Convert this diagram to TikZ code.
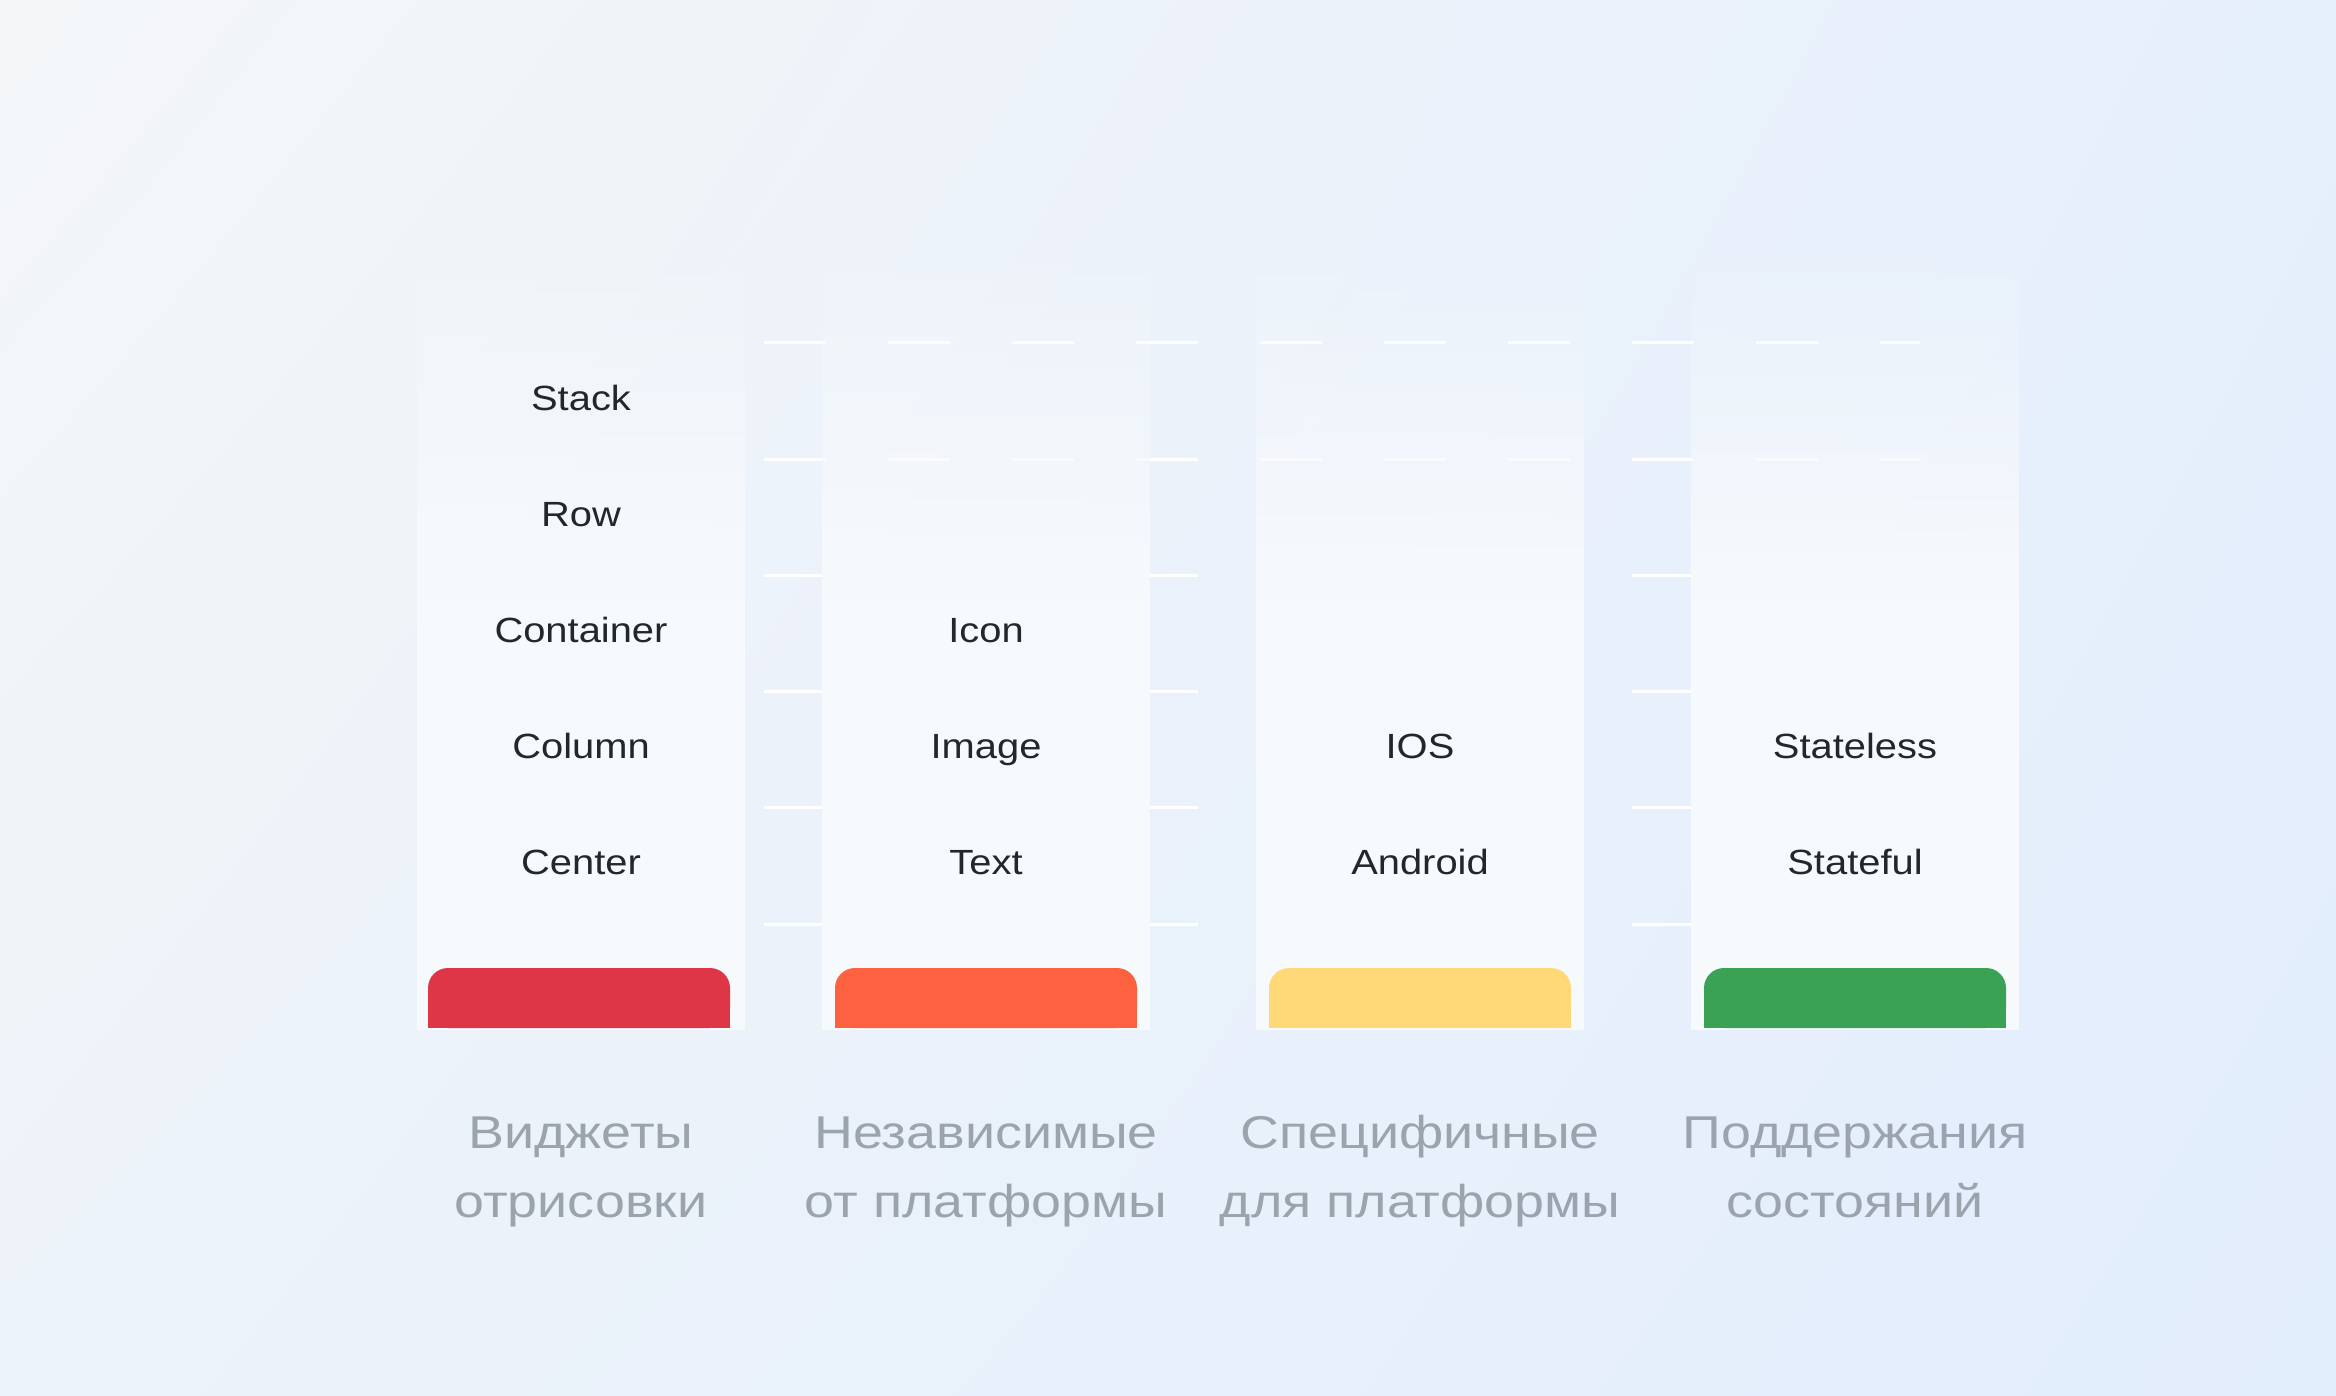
\documentclass[tikz,border=0pt]{standalone}
\usepackage{fontspec}
\setmainfont{Liberation Sans}
\newfontfamily\itemfont[FakeStretch=1.14]{Liberation Sans}
\newfontfamily\capfont[FakeStretch=1.17]{Liberation Sans}
\usetikzlibrary{fadings}
\usetikzlibrary{shadings}
\definecolor{bgtl}{HTML}{F4F6F8}
\definecolor{bgtr}{HTML}{E6EFFC}
\definecolor{bgbl}{HTML}{EDF3FA}
\definecolor{bgbr}{HTML}{E2EDFC}
\definecolor{paper}{HTML}{F7FAFD}
\definecolor{ink}{HTML}{22272B}
\definecolor{mgray}{HTML}{9BA3AD}
\definecolor{mred}{HTML}{DF3647}
\definecolor{morange}{HTML}{FD6140}
\definecolor{myellow}{HTML}{FFD878}
\definecolor{mgreen}{HTML}{3AA255}
\tikzfading[name=panelfade, top color=transparent!100, bottom color=transparent!0]
\tikzset{
  item/.style={anchor=base, text=ink, inner sep=0pt, font=\itemfont\fontsize{17.5pt}{21pt}\selectfont},
  caption/.style={anchor=base, text=mgray, align=center, inner sep=0pt, font=\capfont\fontsize{23pt}{34.5pt}\selectfont},
  panel/.style={fill=paper},
  paneltop/.style={fill=paper, path fading=panelfade},
  gridline/.style={white, line width=1.5pt, dash pattern=on 31pt off 31pt},
}

\begin{document}
\begin{tikzpicture}[x=0.5pt, y=-0.5pt]
    \useasboundingbox (0,0) rectangle (2336,1396);
    \shade [upper left=bgtl, upper right=bgtr, lower left=bgbl, lower right=bgbr] (0,0) rectangle (2336,1396);

    % faint rows behind the columns
    \draw [gridline] (764,343) -- (1920,343);
    \draw [gridline] (764,459) -- (1920,459);
    \draw [gridline] (764,575) -- (1920,575);
    \draw [gridline] (764,691) -- (1920,691);
    \draw [gridline] (764,807) -- (1920,807);
    \draw [gridline] (764,924) -- (1920,924);

    \fill [paneltop] (417,230) rectangle (745,600);
    \fill [panel] (417,599) rectangle (745,1030);
    \fill [paneltop] (822,230) rectangle (1150,600);
    \fill [panel] (822,599) rectangle (1150,1030);
    \fill [paneltop] (1256,230) rectangle (1584,600);
    \fill [panel] (1256,599) rectangle (1584,1030);
    \fill [paneltop] (1691,230) rectangle (2019,600);
    \fill [panel] (1691,599) rectangle (2019,1030);

    % coloured tabs
    \fill [mred, rounded corners=10pt] (428,968) rectangle (730,1028);
    \fill [mred] (428,990) rectangle (730,1028);
    \fill [morange, rounded corners=10pt] (835,968) rectangle (1137,1028);
    \fill [morange] (835,990) rectangle (1137,1028);
    \fill [myellow, rounded corners=10pt] (1269,968) rectangle (1571,1028);
    \fill [myellow] (1269,990) rectangle (1571,1028);
    \fill [mgreen, rounded corners=10pt] (1704,968) rectangle (2006,1028);
    \fill [mgreen] (1704,990) rectangle (2006,1028);

    \node [item] (stack) at (581,410) {Stack};
    \node [item] (row) at (581,526) {Row};
    \node [item] (container) at (581,642) {Container};
    \node [item] (column) at (581,758) {Column};
    \node [item] (center) at (581,874) {Center};

    \node [item] (icon) at (986,642) {Icon};
    \node [item] (image) at (986,758) {Image};
    \node [item] (text) at (986,874) {Text};

    \node [item] (ios) at (1420,758) {IOS};
    \node [item] (android) at (1420,874) {Android};

    \node [item] (stateless) at (1855,758) {Stateless};
    \node [item] (stateful) at (1855,874) {Stateful};

    \node [caption] (widgets) at (581,1217) {Виджеты\\отрисовки};
    \node [caption] (independent) at (986,1217) {Независимые\\от платформы};
    \node [caption] (specific) at (1420,1217) {Специфичные\\для платформы};
    \node [caption] (states) at (1855,1217) {Поддержания\\состояний};
\end{tikzpicture}
\end{document}
